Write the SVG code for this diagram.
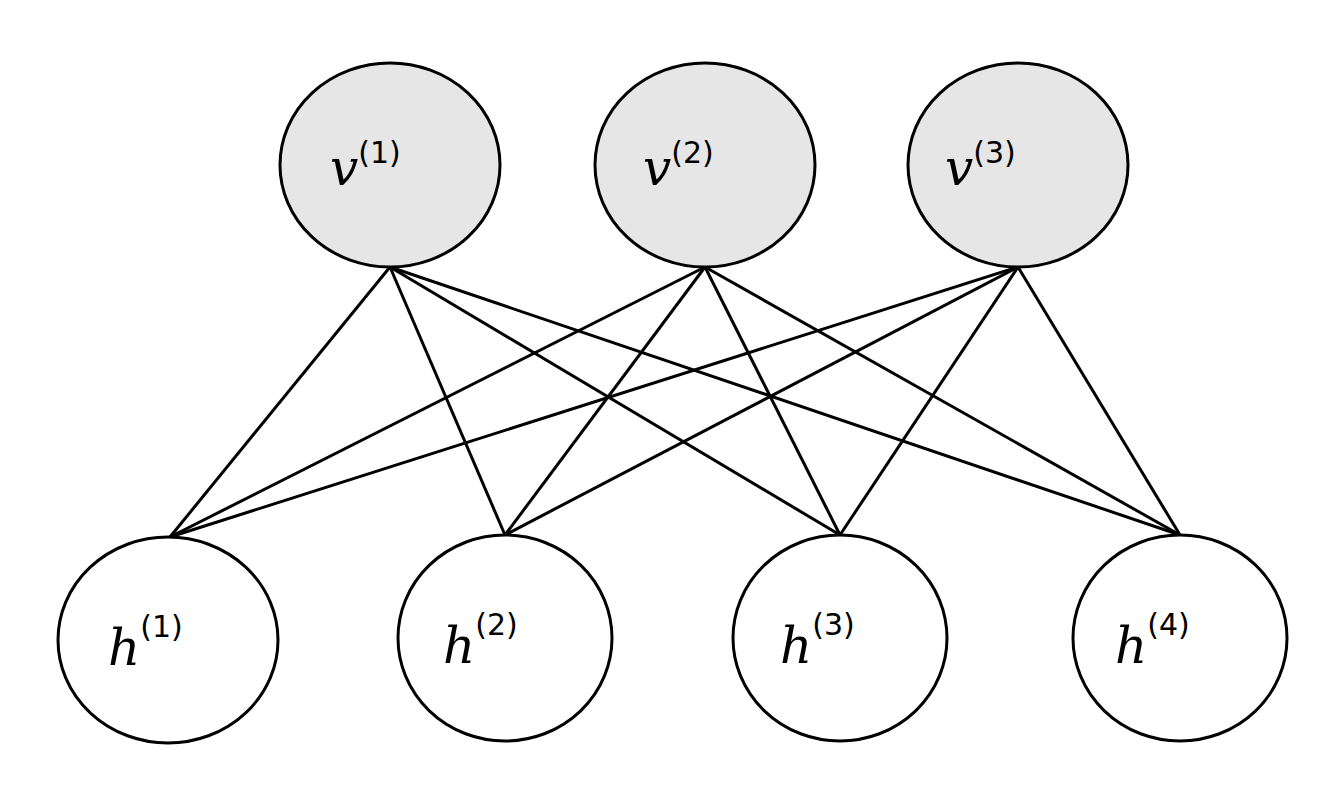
<svg xmlns="http://www.w3.org/2000/svg" width="1334" height="793" viewBox="0 0 1334 793">
<style>
.v{fill:#e6e6e6;stroke:#000;stroke-width:3}
.h{fill:#fff;stroke:#000;stroke-width:3}
.t{font-family:"DejaVu Serif","Liberation Serif",serif;font-style:italic;font-size:50px}
.s{font-family:"DejaVu Sans","Liberation Sans",sans-serif;font-style:normal;font-size:30px}
#edges line{stroke:#000;stroke-width:3}
</style>
<rect width="1334" height="793" fill="#fff"/>
<g id="edges">
<line x1="390" y1="267" x2="170" y2="537"/><line x1="390" y1="267" x2="505" y2="535"/><line x1="390" y1="267" x2="840" y2="535"/><line x1="390" y1="267" x2="1180" y2="535"/>
<line x1="705" y1="267" x2="170" y2="537"/><line x1="705" y1="267" x2="505" y2="535"/><line x1="705" y1="267" x2="840" y2="535"/><line x1="705" y1="267" x2="1180" y2="535"/>
<line x1="1018" y1="267" x2="170" y2="537"/><line x1="1018" y1="267" x2="505" y2="535"/><line x1="1018" y1="267" x2="840" y2="535"/><line x1="1018" y1="267" x2="1180" y2="535"/>
</g>
<g id="v1"><ellipse class="v" cx="390" cy="165" rx="110" ry="102"/><text class="t" x="330" y="185">v<tspan class="s" dy="-22">(1)</tspan></text></g>
<g id="v2"><ellipse class="v" cx="705" cy="165" rx="110" ry="102"/><text class="t" x="643" y="185">v<tspan class="s" dy="-22">(2)</tspan></text></g>
<g id="v3"><ellipse class="v" cx="1018" cy="165" rx="110" ry="102"/><text class="t" x="945" y="185">v<tspan class="s" dy="-22">(3)</tspan></text></g>
<g id="h1"><ellipse class="h" cx="168" cy="640" rx="110" ry="103"/><text class="t" x="108" y="665">h<tspan class="s" dy="-28">(1)</tspan></text></g>
<g id="h2"><ellipse class="h" cx="505" cy="638" rx="107" ry="103"/><text class="t" x="443" y="663">h<tspan class="s" dy="-28">(2)</tspan></text></g>
<g id="h3"><ellipse class="h" cx="840" cy="638" rx="107" ry="103"/><text class="t" x="780" y="663">h<tspan class="s" dy="-28">(3)</tspan></text></g>
<g id="h4"><ellipse class="h" cx="1180" cy="638" rx="107" ry="103"/><text class="t" x="1115" y="663">h<tspan class="s" dy="-28">(4)</tspan></text></g>
</svg>
